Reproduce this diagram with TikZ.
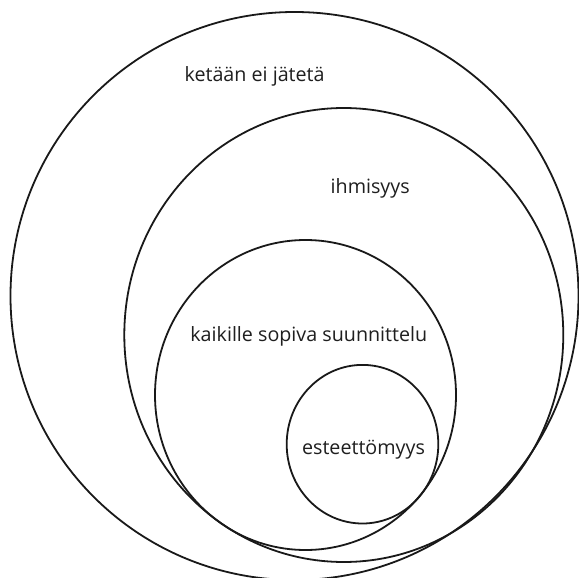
\documentclass[tikz,border=0pt]{standalone}
\usepackage{fontspec}
\setmainfont{Open Sans}
\begin{document}
\begin{tikzpicture}[x=1pt,y=-1pt,
  ring/.style={draw=black!90,line width=1.8pt},
  lbl/.style={text=black!88,font=\fontsize{19.7}{22}\selectfont,inner sep=0pt,anchor=base}]
\useasboundingbox (0,0) rectangle (579,578);
\fill[white] (0,0) rectangle (579,578);
% circles
\draw[ring] (294.5,296) ellipse [x radius=284pt, y radius=284pt];
\draw[ring] (343.8,335) ellipse [x radius=219.5pt, y radius=227pt];
\draw[ring] (305.5,395) ellipse [x radius=150.5pt, y radius=155pt];
\draw[ring] (362.5,444.2) ellipse [x radius=75.8pt, y radius=79.3pt];
% labels
\node[lbl] (t1) at (254.6,82) {ketään ei jätetä};
\node[lbl] (t2) at (370.2,193.8) {ihmisyys};
\node[lbl] (t3) at (308.8,341.7) {kaikille sopiva suunnittelu};
\node[lbl] (t4) at (363.5,454) {esteettömyys};
\end{tikzpicture}
\end{document}
